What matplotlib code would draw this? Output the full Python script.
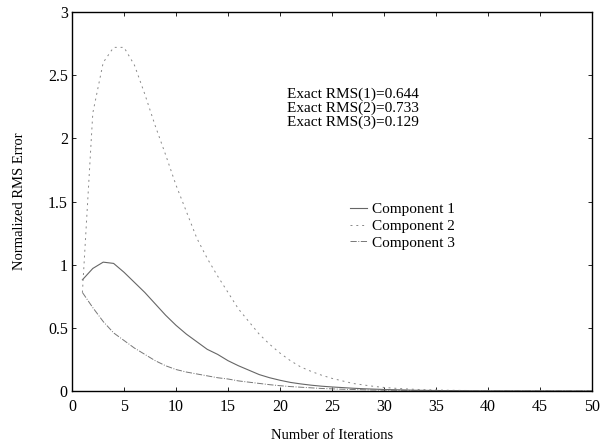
import matplotlib
matplotlib.use("Agg")
import matplotlib.pyplot as plt
import numpy as np

iterations = list(range(1, 51))

component1 = [0.88, 0.97, 1.02, 1.01, 0.94, 0.86, 0.78, 0.69, 0.60, 0.52,
              0.45, 0.39, 0.33, 0.29, 0.24, 0.20, 0.165, 0.13, 0.105, 0.085,
              0.068, 0.056, 0.046, 0.038, 0.032, 0.027, 0.022, 0.018, 0.015, 0.012,
              0.010, 0.008, 0.006, 0.005, 0.004, 0.003, 0.0025, 0.002, 0.0015, 0.001,
              0.001, 0.001, 0.0008, 0.0006, 0.0005, 0.0004, 0.0003, 0.0002, 0.0002, 0.0001]

component2 = [0.78, 2.2, 2.6, 2.72, 2.72, 2.58, 2.35, 2.1, 1.87, 1.63,
              1.42, 1.21, 1.05, 0.91, 0.78, 0.65, 0.55, 0.45, 0.37, 0.30,
              0.24, 0.19, 0.155, 0.125, 0.10, 0.08, 0.06, 0.048, 0.037, 0.028,
              0.022, 0.017, 0.013, 0.010, 0.008, 0.006, 0.005, 0.004, 0.003, 0.002,
              0.0015, 0.001, 0.001, 0.0008, 0.0006, 0.0005, 0.0004, 0.0003, 0.0002, 0.0001]

component3 = [0.78, 0.66, 0.55, 0.46, 0.40, 0.34, 0.29, 0.24, 0.20, 0.17,
              0.15, 0.135, 0.12, 0.105, 0.095, 0.08, 0.07, 0.06, 0.05, 0.042,
              0.035, 0.03, 0.025, 0.02, 0.017, 0.014, 0.012, 0.010, 0.008, 0.007,
              0.006, 0.005, 0.004, 0.0035, 0.003, 0.0025, 0.002, 0.0015, 0.001, 0.001,
              0.0008, 0.0006, 0.0005, 0.0004, 0.0003, 0.0002, 0.0002, 0.0001, 0.0001, 0.0001]

labels = ["Component 1", "Component 2", "Component 3"]
exact_text = ["Exact RMS(1)=0.644", "Exact RMS(2)=0.733", "Exact RMS(3)=0.129"]

plt.rcParams['font.family'] = ['Liberation Serif', 'DejaVu Serif']

fig = plt.figure(figsize=(6.02, 4.45), dpi=100)
# axes: left 72 px, right 592 px, top 12 px, bottom 391 px
ax = fig.add_axes([72 / 602, 1 - 391 / 445, 520 / 602, 379 / 445])

ax.plot(iterations, component1, '-', color='#666666', lw=0.8, label=labels[0])
ax.plot(iterations, component2, '--', color='#888888', lw=0.7, dashes=(2, 4), label=labels[1])
ax.plot(iterations, component3, '-.', color='#777777', lw=0.7, label=labels[2])

ax.set_xlim(0, 50)
ax.set_ylim(0, 3)
ax.set_xticks(np.arange(0, 51, 5))
ax.set_yticks([0, 0.5, 1, 1.5, 2, 2.5, 3])
ax.set_yticklabels(["0", "0.5", "1", "1.5", "2", "2.5", "3"])
ax.tick_params(direction='in', top=True, right=True, length=3, width=0.6,
               labelsize=11.5)
ax.tick_params(axis='x', pad=6)
ax.tick_params(axis='y', pad=3)
for s in ax.spines.values():
    s.set_linewidth(1.0)

ax.set_xlabel("Number of Iterations", fontsize=10.5, labelpad=10)
ax.set_ylabel("Normalized RMS Error", fontsize=10.5, labelpad=16)

ax.text(0.54, 0.746, "\n".join(exact_text), transform=ax.transAxes,
        ha='center', va='center', fontsize=11, linespacing=1.08)

leg = ax.legend(loc='upper left', bbox_to_anchor=(0.535, 0.497), frameon=False,
                fontsize=11, handlelength=1.1, handletextpad=0.3,
                labelspacing=0.2, borderaxespad=0, borderpad=0)

fig.savefig("out.png", dpi=100)
